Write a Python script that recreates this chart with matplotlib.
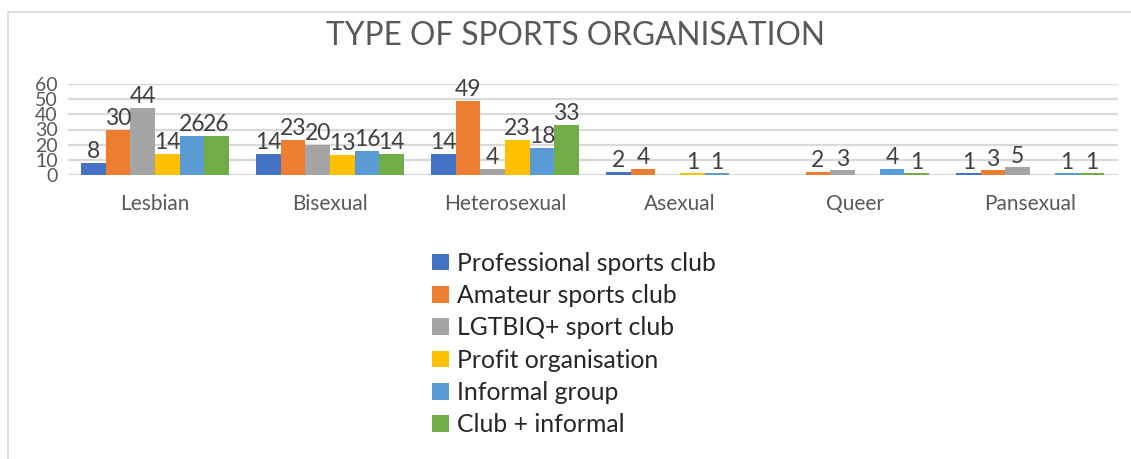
import matplotlib
matplotlib.use("Agg")
import matplotlib.pyplot as plt
import numpy as np
from matplotlib.patches import Patch, Rectangle

plt.rcParams["font.family"] = ["Lato", "DejaVu Sans"]

categories = ["Lesbian", "Bisexual", "Heterosexual", "Asexual", "Queer", "Pansexual"]
series = ["Professional sports club", "Amateur sports club", "LGTBIQ+ sport club",
          "Profit organisation", "Informal group", "Club + informal"]
professional = [8, 14, 14, 2, 0, 1]
amateur = [30, 23, 49, 4, 2, 3]
lgtbiq = [44, 20, 4, 0, 3, 5]
profit = [14, 13, 23, 1, 0, 0]
informal = [26, 16, 18, 1, 4, 1]
club_informal = [26, 14, 33, 0, 1, 1]
values = [professional, amateur, lgtbiq, profit, informal, club_informal]
colors = ["#4472C4", "#ED7D31", "#A5A5A5", "#FFC000", "#5B9BD5", "#70AD47"]

W, H = 1131, 459
fig = plt.figure(figsize=(W / 100, H / 100), dpi=100)

# chart frame (only top/left edges visible)
fig.patches.append(Rectangle((8 / W, -0.1), 1.2, (H - 12) / H + 0.1,
                             transform=fig.transFigure, fill=False,
                             edgecolor="#D9D9D9", linewidth=1.2))

ax = fig.add_axes([67.5 / W, (H - 175) / H, 1050 / W, 91 / H])

x = np.arange(len(categories))
bw = 0.141
for i, (vals, col) in enumerate(zip(values, colors)):
    offs = x + (i - 2.5) * bw
    ax.bar(offs, vals, bw, color=col, zorder=3)
    for xx, v in zip(offs, vals):
        if v:
            ax.text(xx, v + 0.6, str(v), ha="center", va="bottom",
                    fontsize=16.5, color="#404040", zorder=4)

ax.set_xlim(-0.5, len(categories) - 0.5)
ax.set_ylim(0, 60)
ax.set_yticks(range(0, 61, 10))
ax.yaxis.grid(True, color="#D9D9D9", linewidth=1.6, zorder=0)
ax.set_axisbelow(True)
for s in ax.spines.values():
    s.set_visible(False)
ax.tick_params(axis="both", length=0, colors="#595959")
ax.tick_params(axis="y", labelsize=14, pad=7)
ax.set_xticks(x)
ax.set_xticklabels(categories, fontsize=15)
ax.tick_params(axis="x", pad=14)

fig.text(576 / W, 1 - 36 / H, "TYPE OF SPORTS ORGANISATION", ha="center", va="center",
         fontsize=22.8, color="#595959")

handles = [Patch(facecolor=c, label=s) for c, s in zip(colors, series)]
fig.legend(handles=handles, loc="center", bbox_to_anchor=(574 / W, 1 - 344 / H),
           frameon=False, fontsize=17.8, handlelength=0.66, handleheight=0.66,
           handletextpad=0.33, labelspacing=0.38, labelcolor="#262626",
           borderpad=0, borderaxespad=0)

fig.savefig("out.png", dpi=100)
